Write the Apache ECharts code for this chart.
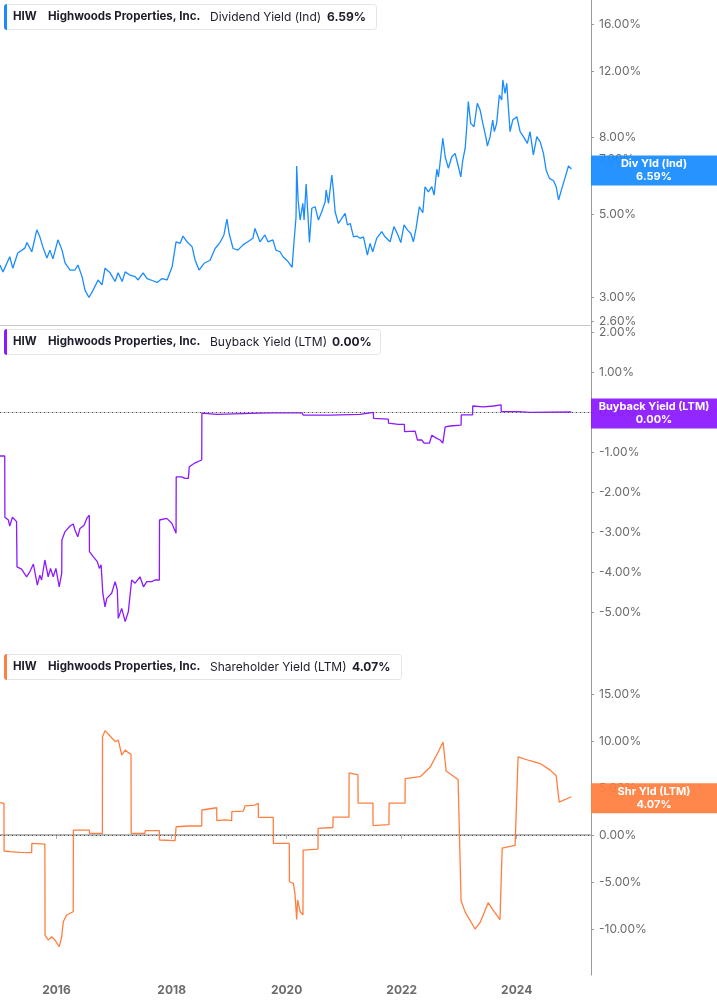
<!DOCTYPE html>
<html>
<head>
<meta charset="utf-8">
<script src="https://cdn.jsdelivr.net/npm/echarts@6/dist/echarts.min.js"></script>
<style>
  html, body { margin: 0; padding: 0; background: #fff; }
  #chart { width: 717px; height: 1005px; }
</style>
</head>
<body>
<div id="chart"></div>
<script>
// Dividend yield (Ind), %
const divDates = [
  '2015-01-07','2015-01-26','2015-03-10','2015-03-29','2015-04-30','2015-06-14','2015-06-27','2015-07-28','2015-08-29','2015-09-17','2015-10-06','2015-11-01','2015-11-20','2015-12-09',
  '2016-01-10','2016-02-05','2016-02-24','2016-03-27','2016-04-27','2016-05-16','2016-06-11','2016-06-30','2016-07-25','2016-08-20','2016-09-21','2016-10-16','2016-11-04','2016-12-06',
  '2017-01-07','2017-01-26','2017-02-21','2017-03-12','2017-04-12','2017-05-14','2017-06-02','2017-07-04','2017-07-29','2017-08-30','2017-10-01','2017-11-01','2017-12-03',
  '2018-01-04','2018-01-29','2018-02-24','2018-03-14','2018-04-09','2018-05-11','2018-05-30','2018-06-24','2018-07-26','2018-09-02','2018-10-04','2018-11-04','2018-11-29','2018-12-18',
  '2019-01-01','2019-01-26','2019-02-26','2019-03-30','2019-04-30','2019-06-01','2019-06-14','2019-07-16','2019-08-16','2019-09-05','2019-10-06','2019-10-25','2019-11-20','2019-12-09',
  '2020-01-10','2020-02-05','2020-02-17','2020-03-01','2020-03-05','2020-03-14','2020-03-27','2020-04-13','2020-04-21','2020-05-04','2020-05-16','2020-05-25','2020-06-09','2020-06-30','2020-07-21','2020-08-11','2020-09-02','2020-09-08','2020-09-23','2020-10-14','2020-10-24','2020-11-04','2020-11-25','2020-12-16',
  '2021-01-07','2021-01-21','2021-02-08','2021-03-01','2021-03-22','2021-04-12','2021-05-03','2021-05-28','2021-06-14','2021-07-01','2021-07-26','2021-08-27','2021-09-17','2021-10-19','2021-11-13','2021-12-04','2021-12-26',
  '2022-01-16','2022-02-06','2022-02-28','2022-03-16','2022-04-02','2022-04-23','2022-05-15','2022-05-29','2022-06-19','2022-07-11','2022-07-26','2022-08-12','2022-08-22','2022-09-06','2022-09-19','2022-10-04','2022-10-24','2022-11-15','2022-12-06','2022-12-27',
  '2023-01-11','2023-01-24','2023-02-08','2023-02-18','2023-02-28','2023-03-15','2023-04-05','2023-04-26','2023-05-14','2023-05-31','2023-06-21','2023-06-29','2023-07-16','2023-08-02','2023-08-12','2023-08-27','2023-09-13','2023-09-28','2023-10-05','2023-10-19','2023-10-30','2023-11-09','2023-11-20','2023-12-07',
  '2024-01-02','2024-01-23','2024-02-13','2024-03-09','2024-03-26','2024-04-16','2024-05-08','2024-05-29','2024-06-19','2024-07-06','2024-07-27','2024-08-22','2024-09-08','2024-09-23','2024-10-14','2024-11-04','2024-11-25','2024-12-13'
];
const divValues = [
  3.66,3.51,3.85,3.59,3.94,4.06,4.20,3.97,4.54,4.35,4.09,3.82,4.01,3.80,
  4.27,4.01,3.71,3.55,3.55,3.66,3.41,3.14,3.00,3.14,3.34,3.24,3.59,3.49,
  3.31,3.49,3.31,3.51,3.44,3.41,3.34,3.49,3.37,3.33,3.29,3.37,3.34,
  3.62,4.22,4.18,4.37,4.22,4.09,3.77,3.55,3.70,3.77,4.05,4.20,4.40,4.85,
  4.44,4.05,4.01,4.14,4.22,4.31,4.58,4.22,4.40,4.22,4.27,4.01,3.97,3.85,
  3.74,3.61,4.22,4.92,6.71,5.45,4.82,5.34,4.82,6.01,4.92,4.20,5.18,5.23,4.82,5.07,5.39,5.79,5.34,6.35,5.79,5.07,4.72,4.87,
  5.02,4.68,4.72,4.35,4.37,4.31,4.35,3.89,4.18,3.97,4.31,4.49,4.35,4.22,4.63,4.44,4.20,
  4.68,4.54,4.44,4.22,4.58,5.23,5.04,5.91,5.73,5.91,5.62,6.58,6.28,7.10,7.95,7.10,6.62,7.10,7.25,6.68,
  6.28,6.96,7.48,8.53,9.95,8.71,8.53,9.85,9.45,8.71,7.95,7.58,8.03,8.89,8.28,8.71,10.36,10.05,11.36,10.47,11.13,9.65,8.28,8.89,
  9.07,8.28,8.03,7.71,8.28,7.18,8.03,7.79,7.25,6.55,6.22,6.13,5.91,5.45,5.85,6.26,6.71,6.59
];

// Buyback yield (LTM), %
const bbDates = [
  '2015-01-07','2015-02-06','2015-02-07','2015-03-01','2015-03-10','2015-03-27','2015-04-22','2015-04-25','2015-05-24','2015-06-25','2015-07-16','2015-08-07','2015-08-16','2015-09-01','2015-09-17','2015-09-28','2015-10-19','2015-11-09','2015-11-24','2015-12-11','2015-12-28',
  '2016-01-18','2016-02-03','2016-02-04','2016-02-24','2016-03-27','2016-04-16','2016-04-27','2016-05-15','2016-05-29','2016-06-24','2016-07-11','2016-07-27','2016-07-28','2016-08-22','2016-09-16','2016-09-29','2016-10-10','2016-10-21','2016-11-04','2016-11-15','2016-12-16',
  '2017-01-07','2017-01-21','2017-01-27','2017-02-18','2017-03-12','2017-04-01','2017-04-12','2017-04-22','2017-05-14','2017-06-14','2017-07-06','2017-07-27','2017-08-27','2017-09-17','2017-10-15','2017-10-16','2017-12-01',
  '2018-01-02','2018-01-29','2018-01-30','2018-03-06','2018-03-27','2018-04-17','2018-04-23','2018-05-30','2018-07-11','2018-07-12','2018-10-14',
  '2019-07-16','2019-10-06','2020-04-07','2020-04-17','2020-10-04','2021-04-12','2021-04-13','2021-07-05','2021-07-06','2021-10-08','2021-10-09','2021-12-11',
  '2022-01-18','2022-01-19','2022-03-27','2022-04-11','2022-05-08','2022-05-23','2022-06-26','2022-07-11','2022-08-12','2022-09-02','2022-09-19','2022-10-04','2022-11-04',
  '2023-01-13','2023-01-14','2023-03-27','2023-03-28','2023-06-04','2023-08-07','2023-09-24','2023-09-25','2024-01-12','2024-01-13','2024-03-26','2024-12-13'
];
const bbValues = [
  -1.10,-1.10,-2.63,-2.70,-2.85,-2.63,-2.74,-3.87,-3.93,-4.12,-3.99,-3.80,-3.82,-4.33,-4.08,-4.20,-3.70,-4.12,-3.91,-4.12,-3.91,
  -4.37,-4.03,-3.20,-2.99,-2.85,-2.80,-2.95,-3.12,-2.91,-2.83,-2.66,-2.58,-3.49,-3.62,-3.74,-3.91,-3.82,-4.53,-4.87,-4.66,-4.53,
  -4.24,-4.45,-5.16,-4.91,-5.24,-4.99,-4.95,-4.20,-4.28,-4.12,-4.37,-4.24,-4.24,-4.20,-4.20,-2.70,-2.66,
  -2.78,-3.03,-1.62,-1.62,-1.66,-1.66,-1.37,-1.27,-1.20,-0.03,-0.06,
  -0.03,-0.02,-0.02,-0.08,-0.08,-0.06,-0.01,-0.01,-0.16,-0.18,-0.28,-0.31,
  -0.31,-0.49,-0.48,-0.70,-0.70,-0.78,-0.78,-0.58,-0.66,-0.70,-0.78,-0.37,-0.35,
  -0.33,-0.07,-0.07,0.15,0.13,0.15,0.18,0.01,0.01,-0.03,-0.01,0.00
];

// Shareholder yield (LTM), %
const shrDates = [
  '2015-01-07','2015-02-01','2015-02-02','2015-03-10','2015-05-14','2015-07-27','2015-07-28','2015-10-19','2015-10-20','2015-11-09','2015-12-01','2015-12-22',
  '2016-01-18','2016-02-03','2016-02-13','2016-03-05','2016-04-16','2016-04-17','2016-07-27','2016-07-28','2016-10-18','2016-10-19','2016-11-04','2016-12-06',
  '2017-01-07','2017-01-27','2017-02-18','2017-03-12','2017-04-01','2017-04-18','2017-04-19','2017-07-16','2017-07-17','2017-10-15','2017-10-16',
  '2018-01-23','2018-01-29','2018-04-17','2018-04-18','2018-07-11','2018-07-12','2018-10-14','2018-10-15','2018-12-06','2018-12-16',
  '2019-01-17','2019-01-18','2019-04-01','2019-04-12','2019-06-14','2019-07-05','2019-07-06','2019-10-08','2019-10-09',
  '2020-01-18','2020-01-19','2020-02-13','2020-02-23','2020-03-05','2020-03-11','2020-03-27','2020-04-14','2020-04-15','2020-07-18','2020-07-19','2020-10-21','2020-10-22',
  '2021-01-31','2021-02-01','2021-03-29','2021-03-30','2021-07-02','2021-07-03','2021-10-12','2021-10-13',
  '2022-01-22','2022-01-23','2022-04-28','2022-06-30','2022-08-20','2022-09-21','2022-10-10','2022-12-25',
  '2023-01-13','2023-02-08','2023-04-12','2023-05-14','2023-07-04','2023-08-04','2023-09-17','2023-10-01','2023-12-22',
  '2024-01-10','2024-03-26','2024-05-29','2024-08-01','2024-09-08','2024-09-27','2024-12-13'
];
const shrValues = [
  3.44,3.37,-1.70,-1.77,-1.84,-1.88,-0.89,-0.96,-10.64,-11.17,-10.82,-11.17,
  -11.88,-10.82,-9.22,-8.51,-8.16,0.53,0.53,0.18,0.18,10.46,11.10,10.53,
  9.93,10.11,8.51,9.04,8.76,8.59,0.18,0.18,0.46,0.46,-0.53,
  -0.60,0.88,0.96,1.06,0.96,2.66,2.90,1.52,1.60,1.73,
  1.52,2.48,2.55,3.09,3.19,3.37,1.88,1.88,-0.89,
  -0.89,-4.97,-5.14,-6.20,-8.97,-6.91,-8.16,-8.50,-1.60,-1.50,0.70,0.80,1.90,
  1.90,6.60,6.40,3.40,3.40,1.00,1.10,3.40,
  3.40,6.00,6.20,7.20,8.80,9.90,6.80,5.90,
  -7.00,-8.20,-10.00,-9.30,-7.20,-8.00,-9.00,-1.40,-1.10,
  8.30,7.90,7.60,6.90,6.30,3.50,4.07
];

// axis ticks
const divTicks = [2.6, 3, 5, 7, 8, 12, 16];
const bbTicks = [-5, -4, -3, -2, -1, 0, 1, 2];
const shrTicks = [-10, -5, 0, 5, 10, 15];
const yearTicks = ['2016-01-01', '2018-01-01', '2020-01-01', '2022-01-01', '2024-01-01'];

const xMin = '2015-01-07';
const xMax = '2025-04-17';

const BLUE = '#1a8cff';
const PURPLE = '#8c1aff';
const ORANGE = '#ff7f40';
const LABEL_FONT = 'Inter, "Noto Sans", sans-serif';

const ts = d => Date.parse(d);
const zip = (d, v) => d.map((x, i) => [ts(x), v[i]]);
const pct = v => v.toFixed(2) + '%';
const last = arr => arr[arr.length - 1];

const chart = echarts.init(document.getElementById('chart'));

const makeX = (i, bottom) => ({
  type: 'value',
  gridIndex: i,
  min: ts(xMin),
  max: ts(xMax),
  axisLine: { show: true, lineStyle: { color: bottom ? '#b5b5b5' : '#c8c8c8', width: bottom ? 2 : 1 } },
  axisTick: {
    show: bottom, length: 4, customValues: yearTicks.map(ts),
    lineStyle: { color: '#b5b5b5' }
  },
  axisLabel: {
    show: bottom, customValues: yearTicks.map(ts), margin: 9,
    color: '#6b6b6b', fontWeight: 'bold', fontSize: 12, fontFamily: LABEL_FONT,
    formatter: v => String(new Date(v).getUTCFullYear())
  },
  splitLine: { show: false }
});

const makeY = (i, type, min, max, ticks) => ({
  type: type,
  gridIndex: i,
  position: 'right',
  min: min,
  max: max,
  axisLine: { show: true, lineStyle: { color: '#9a9a9a', width: 1 } },
  axisTick: { show: true, length: 3, customValues: ticks, lineStyle: { color: '#9a9a9a' } },
  axisLabel: {
    customValues: ticks, margin: 8,
    color: '#6b6b6b', fontSize: 12, fontFamily: LABEL_FONT,
    formatter: v => pct(v)
  },
  splitLine: { show: false }
});

const valueTag = (val, name, color) => ({
  yAxis: val,
  lineStyle: { color: 'rgba(0,0,0,0)', width: 1, type: 'solid' },
  label: {
    show: true,
    position: 'end',
    distance: 0,
    offset: [0, 1.5],
    formatter: '{a|' + name + '}\n{a|' + pct(val) + '}',
    backgroundColor: color,
    padding: [2, 4],
    width: 118,
    rich: {
      a: { color: '#fff', fontWeight: 'bold', fontSize: 11, lineHeight: 13, align: 'center', fontFamily: LABEL_FONT }
    }
  }
});

const zeroLine = {
  yAxis: 0,
  lineStyle: { type: [1, 3], color: '#555', width: 1 },
  label: { show: false }
};

const makeSeries = (i, name, data, color, tags) => ({
  type: 'line',
  name: name,
  xAxisIndex: i,
  yAxisIndex: i,
  data: data,
  showSymbol: false,
  clip: false,
  lineStyle: { color: color, width: 1.3 },
  itemStyle: { color: color },
  markLine: {
    silent: true,
    symbol: ['none', 'none'],
    animation: false,
    data: tags
  }
});

const header = (top, color, metric, value, boxW, valueX) => ({
  type: 'group',
  x: 0,
  y: top,
  z: 100,
  children: [
    { type: 'rect', shape: { x: 4.5, y: 4.5, width: boxW, height: 25, r: 3 }, style: { fill: '#fff', stroke: '#e4e4e4', lineWidth: 1 } },
    { type: 'rect', shape: { x: 4, y: 4, width: 3, height: 26, r: [3, 0, 0, 3] }, style: { fill: color } },
    { type: 'text', x: 13, y: 17, style: { text: 'HIW', font: 'bold 11.5px Inter', fill: '#1c1c2a', verticalAlign: 'middle' } },
    { type: 'text', x: 48, y: 17, style: { text: 'Highwoods Properties, Inc.', font: 'bold 11.5px Inter', fill: '#1c1c2a', verticalAlign: 'middle' } },
    { type: 'text', x: 210, y: 17, style: { text: metric, font: '12px Inter', fill: '#1c1c2a', verticalAlign: 'middle' } },
    { type: 'text', x: valueX, y: 17, style: { text: value, font: 'bold 12px Inter', fill: '#1c1c2a', verticalAlign: 'middle' } }
  ]
});

const option = {
  animation: false,
  backgroundColor: '#fff',
  grid: [
    { left: 0, right: 126, top: 0, height: 325 },
    { left: 0, right: 126, top: 325, height: 325 },
    { left: 0, right: 126, top: 650, height: 325 }
  ],
  xAxis: [makeX(0, false), makeX(1, false), makeX(2, true)],
  yAxis: [
    makeY(0, 'log', 2.536, 18.53, divTicks),
    makeY(1, 'value', -5.95, 2.175, bbTicks),
    makeY(2, 'value', -14.89, 19.68, shrTicks)
  ],
  series: [
    makeSeries(0, 'Dividend Yield (Ind)', zip(divDates, divValues), BLUE,
      [valueTag(last(divValues), 'Div Yld (Ind)', 'rgba(26,140,255,0.94)')]),
    makeSeries(1, 'Buyback Yield (LTM)', zip(bbDates, bbValues), PURPLE,
      [zeroLine, valueTag(last(bbValues), 'Buyback Yield (LTM)', 'rgba(140,26,255,0.94)')]),
    makeSeries(2, 'Shareholder Yield (LTM)', zip(shrDates, shrValues), ORANGE,
      [zeroLine, valueTag(last(shrValues), 'Shr Yld (LTM)', 'rgba(255,127,64,0.94)')])
  ],
  graphic: [
    header(0, BLUE, 'Dividend Yield (Ind)', pct(last(divValues)), 372, 327),
    header(325, PURPLE, 'Buyback Yield (LTM)', pct(last(bbValues)), 376, 332),
    header(650, ORANGE, 'Shareholder Yield (LTM)', pct(last(shrValues)), 397, 352)
  ]
};

chart.setOption(option);
</script>
</body>
</html>
